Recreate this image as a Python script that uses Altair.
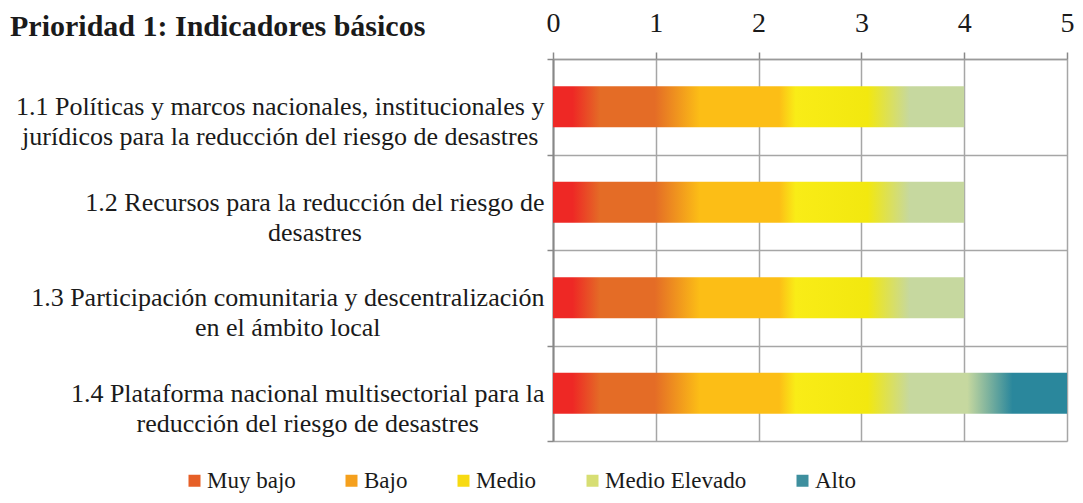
import json
import altair as alt
import pandas as pd

# ---------------- data ----------------
CATEGORIAS = [
    "1.1 Políticas y marcos nacionales, institucionales y\njurídicos para la reducción del riesgo de desastres",
    "1.2 Recursos para la reducción del riesgo de\ndesastres",
    "1.3 Participación comunitaria y  descentralización\nen el ámbito local",
    "1.4 Plataforma nacional multisectorial para la\nreducción del riesgo de desastres",
]
VALORES = [4, 4, 4, 5]
NIVELES = ["Muy bajo", "Bajo", "Medio", "Medio Elevado", "Alto"]
TICKS = [0, 1, 2, 3, 4, 5]
TITULO = "Prioridad 1: Indicadores básicos"

# ---------------- style ----------------
FONT = "Liberation Serif"
COLORES_NIVEL = ["#E65F27", "#F5A01D", "#F7DA12", "#D7DE73", "#3E8F9E"]
# colour ramp of the bars, positions in axis units
RAMPA_POS = [0.0, 0.19, 0.46, 0.99, 1.43, 2.20, 2.36, 3.06, 3.47, 4.03, 4.47, 5.0]
RAMPA_COL = ["#EE2825", "#EE2825", "#E46C26", "#E46C26", "#FCBE16", "#FCBE16",
             "#F9EC17", "#F2E80F", "#C6D89F", "#C6D89F", "#2A879C", "#2A879C"]
GRID = "#A6A6A6"
AXIS = "#888888"
LABEL_SIZE = 26
TIMES_W = {
    " ": 250, ",": 250, ".": 250, "a": 444, "b": 500, "c": 444, "d": 500, "e": 444,
    "f": 333, "g": 500, "h": 500, "i": 278, "j": 278, "k": 500, "l": 278, "m": 778,
    "n": 500, "o": 500, "p": 500, "q": 500, "r": 333, "s": 389, "t": 278, "u": 500,
    "v": 500, "w": 722, "x": 500, "y": 500, "z": 444, "á": 444, "é": 444, "í": 278,
    "ó": 500, "ú": 500, "ñ": 500, "P": 556, "R": 667, "A": 722, "B": 667, "M": 889,
    "E": 611, "I": 333,
}


def hex2rgb(h):
    return [int(h[i:i + 2], 16) for i in (1, 3, 5)]


def color_at(p):
    for i in range(len(RAMPA_POS) - 1):
        a, b = RAMPA_POS[i], RAMPA_POS[i + 1]
        if a <= p <= b:
            t = 0 if b == a else (p - a) / (b - a)
            ca, cb = hex2rgb(RAMPA_COL[i]), hex2rgb(RAMPA_COL[i + 1])
            return "#" + "".join(f"{round(x + (y - x) * t):02X}" for x, y in zip(ca, cb))
    return RAMPA_COL[-1]


def gradiente(v):
    stops = [{"offset": p / v, "color": c} for p, c in zip(RAMPA_POS, RAMPA_COL) if p <= v]
    if stops[-1]["offset"] < 1:
        stops.append({"offset": 1, "color": color_at(v)})
    return {"gradient": "linear", "x1": 0, "y1": 0, "x2": 1, "y2": 0, "stops": stops}


def ancho(txt):
    txt = " ".join(txt.split())
    return sum(TIMES_W.get(ch, 500) for ch in txt) / 1000 * LABEL_SIZE


distintos = sorted(set(VALORES))
color_barras = {
    "condition": [{"test": f"datum.valor == {v}", "value": gradiente(v)} for v in distintos[:-1]],
    "value": gradiente(distintos[-1]),
}

# centre each wrapped label block so that its longest line ends next to the axis
pad_labels = {
    "condition": [
        {"test": "datum.value === " + json.dumps(c, ensure_ascii=False),
         "value": round(3 + max(ancho(l) for l in c.split("\n")) / 2, 1)}
        for c in CATEGORIAS
    ],
    "value": 10,
}

df = pd.DataFrame({"categoria": CATEGORIAS, "valor": VALORES})
df_niv = pd.DataFrame({"nivel": NIVELES})

barras = alt.Chart(df).mark_bar(size=41).encode(
    x=alt.X(
        "valor:Q",
        scale=alt.Scale(domain=[TICKS[0], TICKS[-1]], nice=False),
        axis=alt.Axis(
            orient="top", values=TICKS, format="d", title=None,
            labelFont=FONT, labelFontSize=28, labelColor="#1a1a1a", labelPadding=15,
            labelFlush=False, tickSize=7, tickColor=AXIS, tickWidth=1.5,
            domainColor="#9A9A9A", domainWidth=1.5,
            grid=True, gridColor=GRID, gridWidth=1.5,
        ),
    ),
    y=alt.Y(
        "categoria:N", sort=None,
        scale=alt.Scale(paddingInner=0, paddingOuter=0),
        axis=alt.Axis(
            title=None, labelExpr="split(datum.label, '\\n')",
            labelFont=FONT, labelFontSize=LABEL_SIZE, labelColor="#1a1a1a",
            labelAlign="center", labelBaseline="middle", labelLineHeight=30,
            labelLimit=1000, labelOverlap=False, labelPadding=pad_labels,
            tickBand="extent", tickSize=6, tickColor=AXIS, tickWidth=1.5,
            domainColor=AXIS, domainWidth=2,
            grid=True, gridColor=GRID, gridWidth=1.5,
        ),
    ),
    color=color_barras,
)

leyenda = alt.Chart(df_niv).mark_square(opacity=1).encode(
    color=alt.Color(
        "nivel:N", sort=None,
        scale=alt.Scale(domain=NIVELES, range=COLORES_NIVEL),
        legend=alt.Legend(
            title=None, orient="none", legendX=-370, legendY=410,
            direction="horizontal", symbolType="square", symbolSize=144,
            symbolStrokeWidth=0, symbolOpacity=1, labelFont=FONT, labelFontSize=23,
            labelColor="#1a1a1a", labelOffset=1, columnPadding=44,
            padding=0, labelLimit=1000,
        ),
    )
).transform_filter("false")

chart = alt.layer(barras, leyenda).properties(
    width=514,
    height=382,
    title=alt.TitleParams(
        TITULO, anchor="start", frame="group", dx=-543, dy=37,
        font=FONT, fontSize=30, fontWeight="bold", color="#1a1a1a",
    ),
    autosize=alt.AutoSizeParams(type="none"),
    padding={"left": 545, "top": 51, "right": 8, "bottom": 54},
).configure_view(stroke=None).configure(background="white")

chart.save("out.html", embed_options={"renderer": "svg", "actions": False})
